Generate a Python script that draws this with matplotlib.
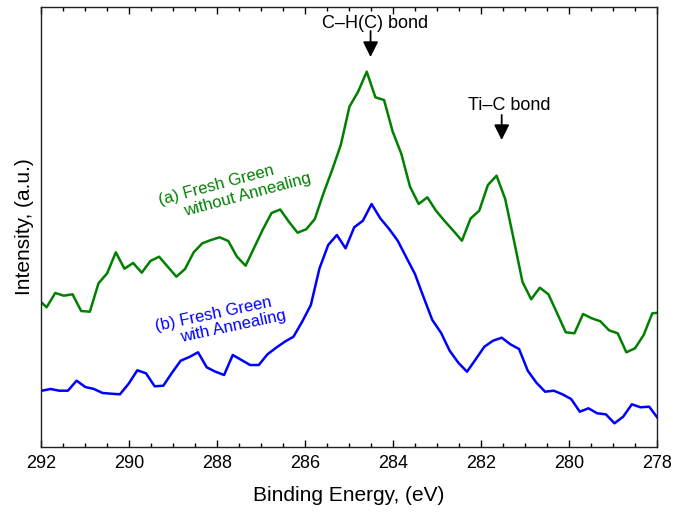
import numpy as np
import matplotlib
matplotlib.use("Agg")
import matplotlib.pyplot as plt
from matplotlib.ticker import MultipleLocator

plt.rcParams['font.family'] = ['Liberation Sans', 'DejaVu Sans']

# ---- data ----
energy_a = np.linspace(292.07, 277.91, 73)   # binding energy grid, sample (a)
intensity_a = [148, 139.7, 154, 151.3, 152.7, 136, 135.3, 163.7, 173.7, 194.7,
               178.3, 184, 174.3, 186, 190.3, 180.3, 170.3, 178, 194.7, 203.7,
               207, 209.7, 206, 190.3, 181.3, 199.5, 217.7, 234, 237.5, 225.3,
               214.3, 217.7, 228, 253.7, 277, 302, 340.3, 355.3, 375.3, 349.7,
               347, 315.3, 293, 260.3, 243, 249.7, 236.3, 226, 216.3, 206.3,
               228.5, 236.3, 262, 271.3, 248, 207, 165, 147.7, 159.3, 152.7,
               133.7, 114.7, 113.7, 133, 128.7, 125.7, 116.7, 113.7, 94.7, 98.7,
               112, 133.7, 134.5]

energy_b = np.linspace(291.98, 277.98, 72)   # binding energy grid, sample (b)
intensity_b = [56.3, 58, 56.3, 56.3, 66.3, 60, 58, 54, 53.3, 52.7,
               63.3, 76.7, 73.7, 60.7, 61.3, 74.3, 86.3, 90, 94.7, 79.7,
               75.3, 72, 92, 87, 82, 82, 92.7, 99.3, 105.3, 110.3,
               125.3, 142, 178.7, 202, 212, 198.7, 219.7, 226.3, 243, 228.7,
               218.3, 206.5, 189.7, 173, 149.7, 127, 114.3, 96.3, 84.3, 75.3,
               87.7, 100.3, 106.3, 109.3, 102.7, 98, 76.3, 64.3, 55.3, 56.3,
               52.7, 48, 35.3, 38.7, 33.7, 32.7, 23.7, 30.3, 42.7, 39.7,
               40.3, 28.7]

x_ticks = [292, 290, 288, 286, 284, 282, 280, 278]
peak_labels = ["C–H(C) bond", "Ti–C bond"]
peak_positions = [284.51, 281.53]

fig = plt.figure(figsize=(6.73, 5.13), dpi=100)
ax = fig.add_axes([41/673, 66/513, 616/673, 440/513])

ax.plot(energy_a, intensity_a, color='#008000', lw=1.8)
ax.plot(energy_b, intensity_b, color='#0000ff', lw=1.8)

ax.set_xlim(292, 278)
ax.set_ylim(0, 440)
ax.set_xticks(x_ticks)
ax.xaxis.set_minor_locator(MultipleLocator(0.5))
ax.set_yticks([])
ax.tick_params(axis='x', which='major', direction='in', length=5, width=1,
               top=True, labelsize=13, pad=6)
ax.tick_params(axis='x', which='minor', direction='in', length=3, width=1, top=True)
for s in ax.spines.values():
    s.set_linewidth(1.0)
    s.set_color('#222222')

ax.set_xlabel("Binding Energy, (eV)", fontsize=15, labelpad=10)
ax.set_ylabel("Intensity, (a.u.)", fontsize=15, labelpad=5)

# peak annotations
ax.text(284.40, 419.5, peak_labels[0], fontsize=13, ha='center', va='baseline')
ax.annotate('', xy=(peak_positions[0], 390), xytext=(peak_positions[0], 416),
            arrowprops=dict(arrowstyle='-|>', color='k', lw=1.3,
                            mutation_scale=23, shrinkA=0, shrinkB=0))
ax.text(281.35, 337, peak_labels[1], fontsize=13, ha='center', va='baseline')
ax.annotate('', xy=(peak_positions[1], 307), xytext=(peak_positions[1], 332),
            arrowprops=dict(arrowstyle='-|>', color='k', lw=1.3,
                            mutation_scale=23, shrinkA=0, shrinkB=0))

# curve labels
ax.text(289.28, 241.5, "(a) Fresh Green", color='#008000', fontsize=12,
        rotation=15, rotation_mode='anchor', ha='left', va='baseline')
ax.text(288.73, 231, "without Annealing", color='#008000', fontsize=12,
        rotation=15, rotation_mode='anchor', ha='left', va='baseline')
ax.text(289.37, 116.2, "(b) Fresh Green", color='#0000ff', fontsize=12,
        rotation=12, rotation_mode='anchor', ha='left', va='baseline')
ax.text(288.81, 105, "with Annealing", color='#0000ff', fontsize=12,
        rotation=12, rotation_mode='anchor', ha='left', va='baseline')

fig.savefig("out.png", dpi=100)
